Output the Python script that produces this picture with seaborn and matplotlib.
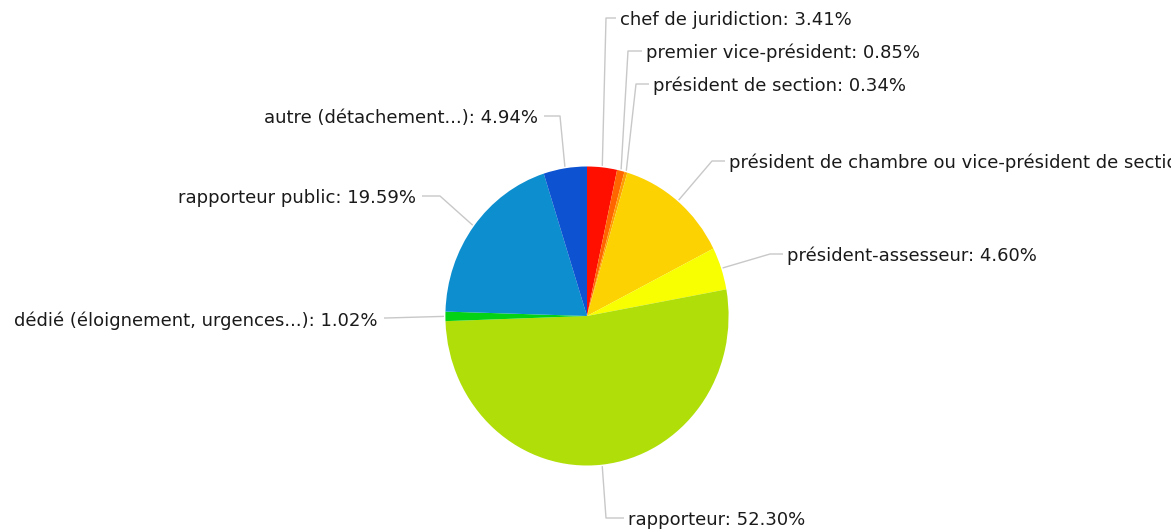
import matplotlib
matplotlib.use("Agg")
import numpy as np
import matplotlib.pyplot as plt
import seaborn as sns

# data (clockwise from 12 o'clock)
categories = [
    "chef de juridiction",
    "premier vice-président",
    "président de section",
    "président de chambre ou vice-président de section",
    "président-assesseur",
    "rapporteur",
    "dédié (éloignement, urgences...)",
    "rapporteur public",
    "autre (détachement...)",
]
shares = [3.41, 0.85, 0.34, 12.95, 4.60, 52.30, 1.02, 19.59, 4.94]
colors = ["#FF0F00", "#FF6600", "#FF9E01", "#FCD202", "#F8FF01",
          "#B0DE09", "#04D215", "#0D8ECF", "#0D52D1"]

# label layout in pixels: text anchor x, text y, elbow x, side
label_x = [620, 646, 653, 729, 787, 628, 378, 416, 538]
label_y = [20, 53, 86, 163, 256, 520, 321, 198, 118]
elbow_x = [606, 628, 636, 712, 770, 606, 386, 440, 560]
side = ["r", "r", "r", "r", "r", "r", "l", "l", "l"]

W, H = 1171, 532
cx, cy, rx, ry = 587, 316, 143, 151

sns.set_theme(style="white")
plt.rcParams["font.family"] = ["DejaVu Sans"]

fig = plt.figure(figsize=(W / 100, H / 100), dpi=100)
fig.patch.set_facecolor("white")

# pie in its own axes, stretched slightly to match the oval shape
ax = fig.add_axes([(cx - rx) / W, 1 - (cy + ry) / H, 2 * rx / W, 2 * ry / H])
ax.pie(shares, colors=colors, startangle=90, counterclock=False,
       radius=1, wedgeprops=dict(linewidth=0))
ax.set_aspect("auto")
ax.set_xlim(-1.01, 1.01)
ax.set_ylim(-1.01, 1.01)
ax.axis("off")

# overlay axes in pixel coordinates for leader lines and labels
ov = fig.add_axes([0, 0, 1, 1])
ov.set_xlim(0, W)
ov.set_ylim(H, 0)
ov.axis("off")
ov.patch.set_alpha(0)

cum = np.cumsum([0] + shares[:-1])
for i, name in enumerate(categories):
    mid = np.deg2rad(90 - (cum[i] + shares[i] / 2) * 3.6)
    ax_x = cx + rx * np.cos(mid)
    ax_y = cy - ry * np.sin(mid)
    ty = label_y[i] - 2 if i != 6 else label_y[i] - 3
    if side[i] == "r":
        end_x = label_x[i] - 4
    else:
        end_x = label_x[i] + 6
    ov.plot([ax_x, elbow_x[i], end_x], [ax_y, ty, ty],
            color="#c8c8c8", lw=1, solid_capstyle="butt")
    ha = "left" if side[i] == "r" else "right"
    ov.text(label_x[i], label_y[i], f"{name}: {shares[i]:.2f}%",
            ha=ha, va="center", fontsize=13, color="#1a1a1a")

fig.savefig("out.png", dpi=100)
